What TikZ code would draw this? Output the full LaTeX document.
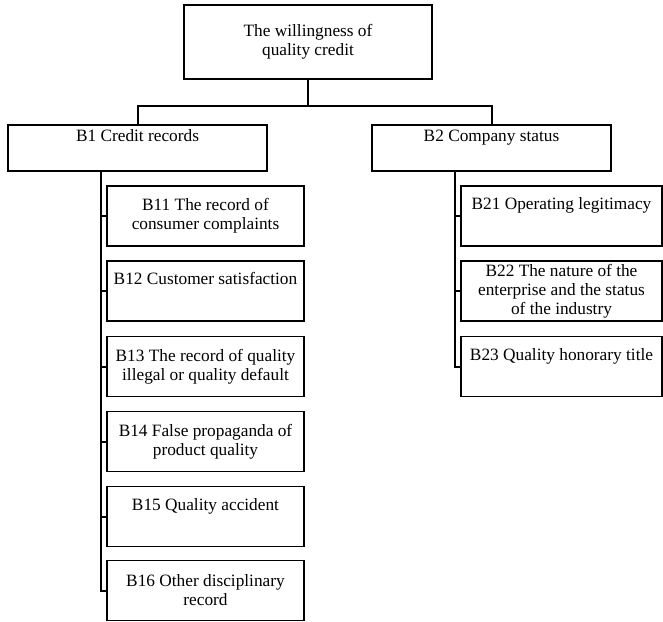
\documentclass[tikz,border=0pt]{standalone}
\usepackage{fontspec}
\setmainfont{Liberation Serif}
\begin{document}
\begin{tikzpicture}[x=1pt,y=-1pt,
  box/.style={draw, line width=1.6pt, align=center, inner sep=0pt,
    font=\fontsize{17.3}{19}\selectfont},
  conn/.style={line width=2pt},
  leaf/.style={box, minimum width=197pt, minimum height=60pt},
  rleaf/.style={box, minimum width=201pt, minimum height=60pt}]
\useasboundingbox (0,0) rectangle (663,621);
\node[box, minimum width=248pt, minimum height=74pt] (top) at (308,42) {The willingness of\\quality credit};
\node[box, minimum width=259pt, minimum height=46pt] (B1) at (137.5,148) {B1 Credit records\\\strut};
\node[box, minimum width=239pt, minimum height=46pt] (B2) at (491.5,148) {B2 Company status\\\strut};
\node[leaf] (B11) at (205.5,216) {B11 The record of\\consumer complaints};
\node[leaf] (B12) at (205.5,291) {B12 Customer satisfaction\\\strut};
\node[leaf] (B13) at (205.5,366.5) {B13 The record of quality\\illegal or quality default};
\node[leaf] (B14) at (205.5,441.5) {B14 False propaganda of\\product quality};
\node[leaf] (B15) at (205.5,516.5) {B15 Quality accident\\\strut};
\node[leaf] (B16) at (205.5,590.5) {B16 Other disciplinary\\record};
\node[rleaf] (B21) at (561.5,216) {B21 Operating legitimacy\\\strut};
\node[rleaf] (B22) at (561.5,291) {B22 The nature of the\\enterprise and the status\\of the industry};
\node[rleaf] (B23) at (561.5,366.5) {B23 Quality honorary title\\\strut};
\coordinate (j) at (308,106);
\coordinate (L) at (100.5,0);
\coordinate (R) at (454.5,0);
\draw[conn] (top.south) -- (j);
\draw[conn] (B1.north) |- (j) -| (B2.north);
\draw[conn] (B1.south -| L) |- (B16.west);
\foreach \n in {B11,B12,B13,B14,B15} \draw[conn] (\n.west -| L) -- (\n.west);
\draw[conn] (B2.south -| R) |- (B23.west);
\foreach \n in {B21,B22} \draw[conn] (\n.west -| R) -- (\n.west);
\end{tikzpicture}
\end{document}
